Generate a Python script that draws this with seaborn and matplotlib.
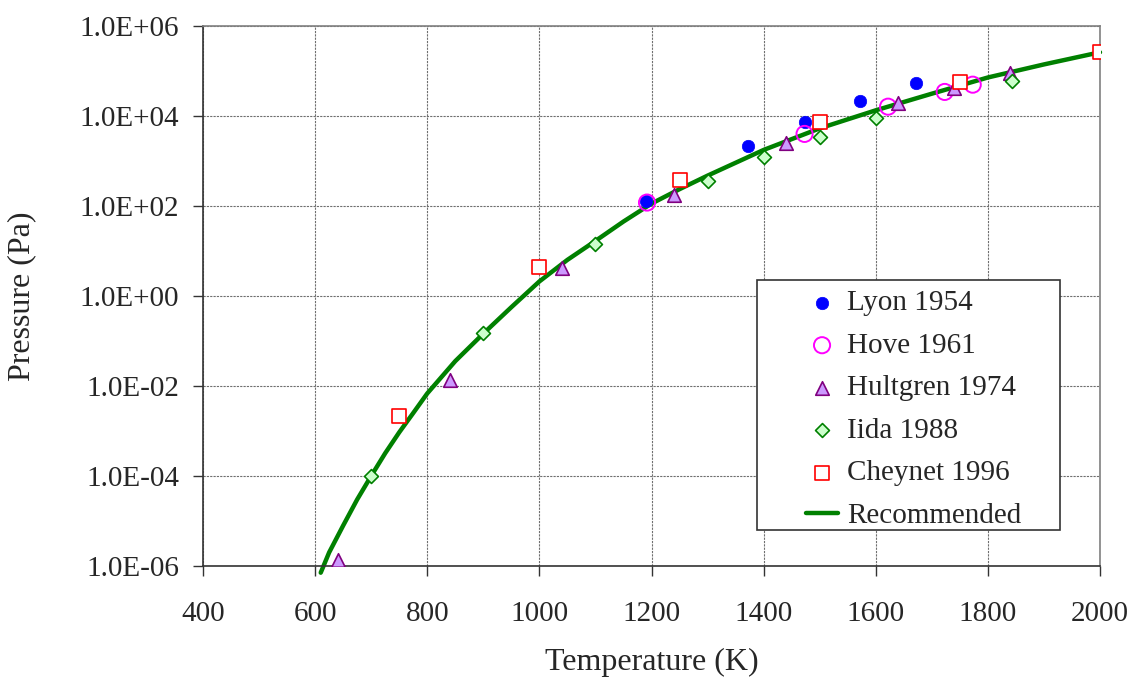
import numpy as np
import pandas as pd
import matplotlib
matplotlib.use("Agg")
import matplotlib.pyplot as plt
import seaborn as sns
from matplotlib.patches import Rectangle
from matplotlib.ticker import FixedLocator, FuncFormatter, NullLocator

# ---- data ----
lyon_T = [1190, 1372, 1473, 1572, 1672]
lyon_P = [130, 2140, 7400, 21000, 54300]
hove_T = [1192, 1473, 1622, 1723, 1773]
hove_P = [118, 3950, 15900, 33800, 49000]
hult_T = [640, 840, 1040, 1240, 1440, 1640, 1740, 1840]
hult_P = [1.33e-6, 0.0136, 4.1, 174, 2530, 19000, 40800, 87000]
iida_T = [700, 900, 1100, 1300, 1400, 1500, 1600, 1843]
iida_P = [1.0e-4, 0.148, 14.3, 347, 1200, 3430, 9100, 60000]
chey_T = [750, 1000, 1250, 1500, 1750, 2000]
chey_P = [0.0022, 4.27, 372, 7180, 57100, 2.6e5]
rec_T = [610, 625, 650, 675, 700, 725, 750, 775, 800, 850, 900, 950, 1000,
         1050, 1100, 1150, 1200, 1250, 1300, 1400, 1500, 1600, 1700, 1800,
         1900, 2000]
rec_P = [7.1e-7, 2.0e-6, 7.9e-6, 3.0e-5, 1.0e-4, 3.2e-4, 9.3e-4, 2.5e-3,
         6.8e-3, 0.0355, 0.145, 0.56, 2.09, 6.3, 16.6, 44.7, 112, 234, 468,
         1740, 5250, 13200, 30900, 70800, 138000, 257000]

x_ticks = [400, 600, 800, 1000, 1200, 1400, 1600, 1800, 2000]
y_ticks = [1e-6, 1e-4, 1e-2, 1e0, 1e2, 1e4, 1e6]

sns.set_style("white")
plt.rcParams['font.family'] = ['Liberation Serif', 'DejaVu Serif']

W, H = 1134, 680
fig = plt.figure(figsize=(W / 100, H / 100), dpi=100)
ax_l, ax_r, ax_t, ax_b = 203, 1100, 25.7, 566
ax = fig.add_axes([ax_l / W, 1 - ax_b / H, (ax_r - ax_l) / W, (ax_b - ax_t) / H])

def ax_xy(px, py):
    return ((px - ax_l) / (ax_r - ax_l), (ax_b - py) / (ax_b - ax_t))

rec = pd.DataFrame({"T": rec_T, "P": rec_P})
sns.lineplot(data=rec, x="T", y="P", ax=ax, color="#008000", linewidth=3.2,
             label="Recommended", zorder=2, clip_on=False, sort=False,
             estimator=None)

series = [
    (lyon_T, lyon_P, "Lyon 1954", dict(marker="o", s=80, color="#0000FF",
                                        edgecolor="#0000FF", linewidth=0.5)),
    (hove_T, hove_P, "Hove 1961", dict(marker="o", s=135, facecolor="none",
                                        edgecolor="#FF00FF", linewidth=1.4)),
    (hult_T, hult_P, "Hultgren 1974", dict(marker="^", s=95, color="#CC99FF",
                                            edgecolor="#800080", linewidth=1.2)),
    (iida_T, iida_P, "Iida 1988", dict(marker="D", s=50, color="#CCFFCC",
                                        edgecolor="#008000", linewidth=1.2)),
    (chey_T, chey_P, "Cheynet 1996", dict(marker="s", s=90, color="white",
                                           edgecolor="#FF0000", linewidth=1.2)),
]
for T, P, lab, kw in series:
    df = pd.DataFrame({"T": T, "P": P})
    sns.scatterplot(data=df, x="T", y="P", ax=ax, label=lab, zorder=3, **kw)

ax.set_yscale("log")
ax.set_xlim(400, 2000)
ax.set_ylim(1e-6, 1e6)
ax.xaxis.set_major_locator(FixedLocator(x_ticks))
ax.yaxis.set_major_locator(FixedLocator(y_ticks))
ax.yaxis.set_minor_locator(NullLocator())
ax.xaxis.set_minor_locator(NullLocator())
ax.yaxis.set_major_formatter(FuncFormatter(lambda v, p: f"{v:.1E}"))
ax.xaxis.set_major_formatter(FuncFormatter(lambda v, p: f"{int(v)}"))

ax.grid(True, which="major", color="#6f6f6f", linestyle=(0, (2, 1)), linewidth=0.8)
ax.set_axisbelow(True)
ax.tick_params(axis="both", which="major", direction="out", length=7, width=1,
               color="#333333", labelsize=21, bottom=True, left=True)
ax.tick_params(axis="x", pad=18)
ax.tick_params(axis="y", pad=10)
for side in ["left", "bottom"]:
    ax.spines[side].set_color("#333333")
    ax.spines[side].set_linewidth(1.2)
for side in ["top", "right"]:
    ax.spines[side].set_color("#808080")
    ax.spines[side].set_linewidth(1.2)

ax.set_xlabel("Temperature (K)", fontsize=23, labelpad=15)
ax.set_ylabel("Pressure (Pa)", fontsize=23, labelpad=31)

# legend frame drawn separately to get the wide left margin of the original
x0, y0 = ax_xy(757, 530)
x1, y1 = ax_xy(1060, 280)
ax.add_patch(Rectangle((x0, y0), x1 - x0, y1 - y0, transform=ax.transAxes,
                       facecolor="white", edgecolor="#333333", linewidth=1.2,
                       zorder=4, clip_on=False))

handles, labels = ax.get_legend_handles_labels()
order = ["Lyon 1954", "Hove 1961", "Hultgren 1974", "Iida 1988", "Cheynet 1996", "Recommended"]
hmap = dict(zip(labels, handles))
lx, ly = ax_xy(806, 290)
leg = ax.legend([hmap[l] for l in order], order, loc="upper left",
                bbox_to_anchor=(lx, ly), fontsize=21, frameon=False,
                labelspacing=0.55, handlelength=1.1, handletextpad=0.3,
                borderpad=0, borderaxespad=0)
leg.set_zorder(5)

fig.savefig("out.png", dpi=100)
